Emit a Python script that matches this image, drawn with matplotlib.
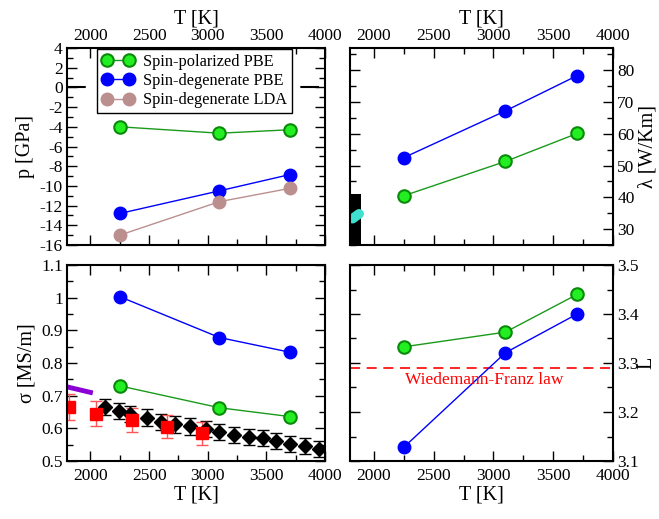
import matplotlib
matplotlib.use("Agg")
import matplotlib.pyplot as plt
from matplotlib.ticker import MultipleLocator

plt.rcParams['font.family'] = ['Liberation Serif', 'DejaVu Serif']
plt.rcParams['mathtext.fontset'] = 'stix'
plt.rcParams['axes.unicode_minus'] = False

# simulation temperatures
T = [2250, 3100, 3700]

# pressure [GPa]
p_pol = [-4.0, -4.65, -4.3]
p_deg = [-12.8, -10.5, -8.85]
p_lda = [-15.0, -11.6, -10.25]

# thermal conductivity [W/Km]
lam_pol = [40.5, 51.3, 60.1]
lam_deg = [52.5, 67.2, 78.3]
lam_band_T = [1800, 1890]
lam_band_lo = [20, 20]
lam_band_hi = [41.1, 41.1]
lam_cyan_T = [1822, 1876]
lam_cyan = [33.3, 34.8]

# electrical conductivity [MS/m]
sig_pol = [0.730, 0.663, 0.636]
sig_deg = [1.003, 0.878, 0.833]
sig_violet_T = [1800, 2000]
sig_violet = [0.727, 0.710]
sig_red_T = [1820, 2050, 2350, 2650, 2950]
sig_red = [0.666, 0.645, 0.625, 0.605, 0.585]
sig_red_err = [0.040, 0.039, 0.037, 0.036, 0.035]
sig_blk_T = [2120, 2240, 2340, 2480, 2600, 2720, 2850, 2985, 3100, 3220,
             3350, 3470, 3580, 3700, 3830, 3950]
sig_blk = [0.665, 0.653, 0.643, 0.633, 0.620, 0.612, 0.606, 0.598, 0.588,
           0.580, 0.573, 0.570, 0.561, 0.553, 0.545, 0.537]
sig_blk_err = [0.025] * 16

# Lorenz number
L_pol = [3.333, 3.363, 3.440]
L_deg = [3.128, 3.321, 3.400]
L_wf = 3.29

fig = plt.figure(figsize=(6.59, 5.19), dpi=100)
W, H = 659.0, 519.0
def box(l, t, r, b):
    return [l / W, 1 - b / H, (r - l) / W, (b - t) / H]

ax_p = fig.add_axes(box(67, 48, 325, 245))
ax_lam = fig.add_axes(box(350, 48, 613, 245))
ax_sig = fig.add_axes(box(67, 265, 325, 461))
ax_L = fig.add_axes(box(350, 265, 613, 461))

green = dict(color='#1a9a1a', marker='o', ms=9, mfc='#22ee22', mec='#0a8a0a', mew=1.5, lw=1)
blue = dict(color='blue', marker='o', ms=9, mfc='blue', mec='blue', lw=1)
brown = dict(color='#bc8f8f', marker='o', ms=9, mfc='#bc8f8f', mec='#bc8f8f', lw=1)

fs_tick = 12.5
fs_leg = 11.8
fs_lab = 14.5

for ax in (ax_p, ax_lam, ax_sig, ax_L):
    ax.set_xlim(1800, 4000)
    ax.xaxis.set_major_locator(MultipleLocator(500))
    ax.xaxis.set_minor_locator(MultipleLocator(250))
    ax.tick_params(which='both', direction='in', top=True, bottom=True,
                   left=True, right=True, labelsize=fs_tick, width=1, pad=3)
    ax.tick_params(which='major', length=7)
    ax.tick_params(which='minor', length=4)
    for s in ax.spines.values():
        s.set_linewidth(1.5)

for ax in (ax_p, ax_lam):
    ax.tick_params(labeltop=True, labelbottom=False)
    ax.xaxis.set_label_position('top')
    ax.set_xlabel('T [K]', fontsize=fs_lab, labelpad=3)
for ax in (ax_sig, ax_L):
    ax.tick_params(axis='x', pad=5)
    ax.set_xlabel('T [K]', fontsize=fs_lab, labelpad=1)
for ax in (ax_lam, ax_L):
    ax.tick_params(labelleft=False, labelright=True)
    ax.yaxis.set_label_position('right')

# pressure
ax_p.axhline(0, color='black', lw=1.5, dashes=(9, 7))
ax_p.plot(T, p_pol, label='Spin-polarized PBE', **green)
ax_p.plot(T, p_deg, label='Spin-degenerate PBE', **blue)
ax_p.plot(T, p_lda, label='Spin-degenerate LDA', **brown)
ax_p.set_ylim(-16, 4)
ax_p.yaxis.set_major_locator(MultipleLocator(2))
ax_p.yaxis.set_minor_locator(MultipleLocator(1))
ax_p.set_ylabel('p [GPa]', fontsize=fs_lab, labelpad=3)
leg = ax_p.legend(loc='upper left', bbox_to_anchor=(0.115, 0.995), numpoints=2,
                  fontsize=fs_leg, frameon=True, fancybox=False, framealpha=1,
                  edgecolor='black', borderpad=0.3, labelspacing=0.2,
                  handlelength=2.0, handletextpad=0.5, borderaxespad=0)
leg.get_frame().set_linewidth(1)

# thermal conductivity
ax_lam.fill_between(lam_band_T, lam_band_lo, lam_band_hi, color='black', lw=0)
ax_lam.plot(lam_cyan_T, lam_cyan, color='#40e0d0', lw=7, solid_capstyle='round')
ax_lam.plot(T, lam_deg, **blue)
ax_lam.plot(T, lam_pol, **green)
ax_lam.set_ylim(25, 87)
ax_lam.yaxis.set_major_locator(MultipleLocator(10))
ax_lam.yaxis.set_minor_locator(MultipleLocator(5))
ax_lam.set_ylabel('λ [W/Km]', fontsize=fs_lab, labelpad=3)

# electrical conductivity
ax_sig.plot(sig_violet_T, sig_violet, color='#8a00d4', lw=3.5)
ax_sig.errorbar(sig_blk_T, sig_blk, yerr=sig_blk_err, fmt='D', color='black',
                ms=7, capsize=4, elinewidth=1, capthick=1)
ax_sig.errorbar(sig_red_T, sig_red, yerr=sig_red_err, fmt='s', color='red',
                mec='red', ecolor='#ff5555', ms=8, capsize=4, elinewidth=1, capthick=1)
ax_sig.plot(T, sig_deg, **blue)
ax_sig.plot(T, sig_pol, **green)
ax_sig.set_ylim(0.5, 1.1)
ax_sig.yaxis.set_minor_locator(MultipleLocator(0.05))
ax_sig.set_yticks([0.5, 0.6, 0.7, 0.8, 0.9, 1.0, 1.1])
ax_sig.set_yticklabels(['0.5', '0.6', '0.7', '0.8', '0.9', '1', '1.1'])
ax_sig.set_ylabel('σ [MS/m]', fontsize=fs_lab, labelpad=3)

# Lorenz number
ax_L.axhline(L_wf, color='red', lw=1.2, dashes=(6, 4))
ax_L.text(2925, 3.266, 'Wiedemann-Franz law', color='red', fontsize=fs_tick,
          ha='center', va='center')
ax_L.plot(T, L_deg, **blue)
ax_L.plot(T, L_pol, **green)
ax_L.set_ylim(3.1, 3.5)
ax_L.yaxis.set_major_locator(MultipleLocator(0.1))
ax_L.yaxis.set_minor_locator(MultipleLocator(0.05))
ax_L.set_ylabel('L', fontsize=fs_lab, labelpad=-1)

fig.savefig('out.png', dpi=100)
